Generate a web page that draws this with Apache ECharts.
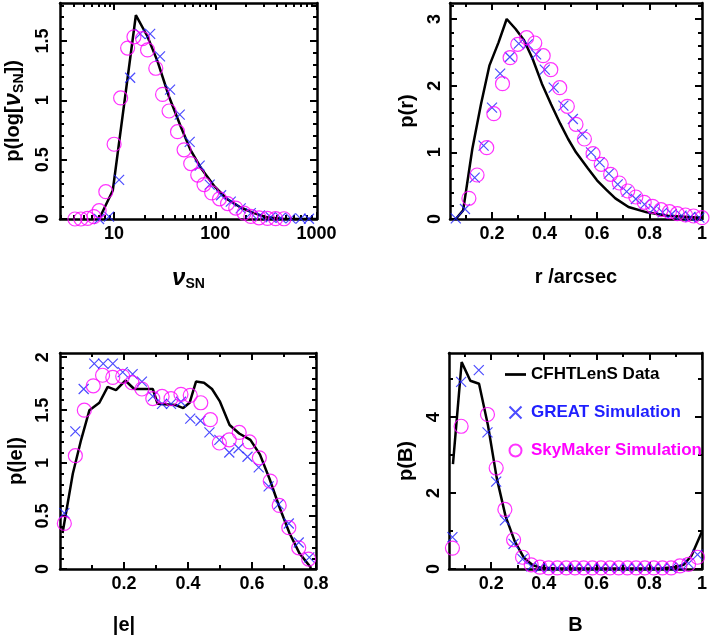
<!DOCTYPE html>
<html>
<head>
<meta charset="utf-8">
<script src="https://cdn.jsdelivr.net/npm/echarts@6/dist/echarts.min.js"></script>
<style>
  html, body { margin: 0; padding: 0; background: #fff; }
  #main { width: 710px; height: 639px; }
</style>
</head>
<body>
<div id="main"></div>
<script>
// ---- panel 1: signal to noise (x in nu_SN, drawn on log10 scale)
var snrLine = [[7.1,0],[9.7,0.24],[16.4,1.717],[21.3,1.54],[26.8,1.33],[34.9,1.03],[45.5,0.78],[57,0.58],[72,0.43],[97,0.28],[131,0.167],[178,0.097],[241,0.05],[326,0.014],[477,0],[1000,0]];
var snrGreat = [[7.1,0],[8.9,0.02],[11.2,0.33],[14.4,1.19],[18.1,1.56],[22.7,1.56],[28.4,1.37],[35.7,1.09],[44.5,0.88],[55.8,0.65],[70,0.45],[87.9,0.29],[114,0.2],[142,0.147],[178,0.09],[224,0.05],[276,0.03],[352,0.015],[442,0.01],[554,0.005],[697,0.003],[841,0.002]];
var snrSky = [[4.1,0],[4.7,0],[5.46,0.005],[6.31,0.02],[7.11,0.07],[8.28,0.23],[10,0.63],[11.6,1.02],[13.6,1.44],[15.7,1.535],[19.1,1.52],[21.4,1.425],[25.8,1.27],[30.1,1.05],[34.9,0.91],[42.3,0.736],[49.1,0.583],[57.1,0.467],[67,0.37],[77.3,0.29],[92,0.22],[110,0.17],[132,0.13],[159,0.092],[192,0.05],[224,0.022],[270,0.01],[327,0.005],[394,0.003],[477,0.002]];

// ---- panel 2: size r / arcsec
var sizeLine = [[0.062,0],[0.09,0.13],[0.125,1.05],[0.158,1.72],[0.19,2.3],[0.225,2.65],[0.256,3.0],[0.29,2.85],[0.322,2.68],[0.355,2.4],[0.39,2.03],[0.425,1.72],[0.46,1.43],[0.49,1.2],[0.52,1.0],[0.565,0.76],[0.6,0.58],[0.635,0.44],[0.67,0.31],[0.72,0.18],[0.79,0.1],[0.87,0.05],[0.95,0.03],[1.0,0.02]];
var sizeGreat = [[0.062,0.01],[0.097,0.15],[0.134,0.62],[0.168,1.1],[0.2,1.67],[0.231,2.18],[0.268,2.43],[0.302,2.63],[0.336,2.62],[0.368,2.47],[0.401,2.24],[0.435,1.97],[0.472,1.7],[0.508,1.5],[0.544,1.27],[0.577,1.0],[0.61,0.85],[0.645,0.68],[0.679,0.52],[0.713,0.41],[0.748,0.3],[0.781,0.22],[0.816,0.15],[0.85,0.1],[0.885,0.075],[0.922,0.05],[0.956,0.03],[0.99,0.02]];
var sizeSky = [[0.112,0.31],[0.143,0.66],[0.18,1.07],[0.207,1.58],[0.24,2.03],[0.269,2.42],[0.298,2.62],[0.332,2.72],[0.363,2.64],[0.395,2.45],[0.424,2.24],[0.458,1.97],[0.487,1.69],[0.52,1.42],[0.552,1.2],[0.585,0.98],[0.616,0.82],[0.652,0.67],[0.685,0.54],[0.717,0.42],[0.748,0.33],[0.78,0.25],[0.812,0.19],[0.844,0.14],[0.876,0.11],[0.906,0.08],[0.937,0.06],[0.968,0.045],[1.0,0.02]];

// ---- panel 3: ellipticity |e|
var ellLine = [[0.008,0.34],[0.02,0.55],[0.04,0.9],[0.066,1.22],[0.092,1.5],[0.123,1.57],[0.149,1.72],[0.175,1.69],[0.204,1.78],[0.232,1.7],[0.29,1.7],[0.305,1.56],[0.36,1.55],[0.385,1.52],[0.405,1.57],[0.425,1.77],[0.45,1.76],[0.475,1.7],[0.5,1.58],[0.53,1.36],[0.56,1.28],[0.595,1.22],[0.625,1.08],[0.655,0.85],[0.685,0.59],[0.717,0.34],[0.748,0.15],[0.785,0.01]];
var ellGreat = [[0.0135,0.527],[0.048,1.3],[0.074,1.7],[0.107,1.94],[0.135,1.94],[0.165,1.94],[0.196,1.86],[0.227,1.84],[0.256,1.77],[0.29,1.63],[0.319,1.56],[0.347,1.56],[0.378,1.58],[0.407,1.42],[0.439,1.4],[0.467,1.29],[0.498,1.22],[0.529,1.1],[0.558,1.14],[0.586,1.06],[0.621,0.96],[0.652,0.78],[0.683,0.61],[0.715,0.43],[0.746,0.25],[0.779,0.11]];
var ellSky = [[0.0135,0.43],[0.048,1.07],[0.076,1.5],[0.104,1.73],[0.133,1.83],[0.165,1.81],[0.196,1.82],[0.225,1.76],[0.256,1.7],[0.29,1.61],[0.319,1.63],[0.347,1.61],[0.378,1.65],[0.407,1.64],[0.44,1.57],[0.47,1.41],[0.498,1.19],[0.529,1.22],[0.56,1.29],[0.592,1.2],[0.623,1.05],[0.657,0.83],[0.685,0.6],[0.715,0.39],[0.746,0.2],[0.777,0.094]];

// ---- panel 4: bulge fraction B
var bulgeLine = [[0.055,2.76],[0.088,5.45],[0.121,4.96],[0.154,4.88],[0.188,3.78],[0.221,2.4],[0.255,1.38],[0.29,0.72],[0.324,0.3],[0.358,0.1],[0.39,0.03],[0.45,0.01],[0.55,0.01],[0.65,0.01],[0.75,0.01],[0.85,0.02],[0.9,0.05],[0.93,0.11],[0.96,0.35],[1.0,0.99]];
var bulgeGreat = [[0.053,0.84],[0.086,4.93],[0.153,5.24],[0.186,3.6],[0.219,2.3],[0.252,1.28],[0.285,0.66],[0.319,0.26],[0.352,0.07],[0.385,0.03],[0.418,0.02],[0.451,0.02],[0.485,0.02],[0.518,0.02],[0.551,0.02],[0.584,0.02],[0.617,0.02],[0.651,0.02],[0.684,0.02],[0.717,0.02],[0.75,0.02],[0.783,0.02],[0.817,0.02],[0.85,0.02],[0.883,0.03],[0.916,0.06],[0.949,0.15],[0.983,0.38]];
var bulgeSky = [[0.053,0.55],[0.086,3.76],[0.186,4.07],[0.219,2.66],[0.252,1.57],[0.285,0.77],[0.319,0.31],[0.352,0.11],[0.385,0.05],[0.418,0.03],[0.451,0.03],[0.485,0.03],[0.518,0.03],[0.551,0.03],[0.584,0.03],[0.617,0.03],[0.651,0.03],[0.684,0.03],[0.717,0.03],[0.75,0.03],[0.783,0.03],[0.817,0.03],[0.85,0.03],[0.883,0.03],[0.916,0.08],[0.949,0.12],[0.983,0.31]];

// tick values
var snrMajor = [10, 100, 1000];
var snrMinor = [3,4,5,6,7,8,9,20,30,40,50,60,70,80,90,200,300,400,500,600,700,800,900];
var unitMajor = [0.2, 0.4, 0.6, 0.8, 1.0];
var unitMinor = [0.1, 0.3, 0.5, 0.7, 0.9];

var FONT = '"Liberation Sans", Arial, sans-serif';
var BLUE = '#1f1fff', MAGENTA = '#ff00ff';

function lg(v) { return Math.log10(v); }
function fmt(v) { return String(+(+v).toFixed(2)); }

var xAxes = [], yAxes = [];

// builds the 4 tick axes of one side pair; returns index of the labelled one
function addAxes(list, dim, grid, min, max, major, minor, labels, labelFmt, name, nameGap, margin, namePad) {
  var sides = dim === 'x' ? ['bottom', 'top'] : ['left', 'right'];
  var first = list.length;
  sides.forEach(function (pos, si) {
    [major, minor].forEach(function (ticks, ti) {
      var ax = {
        type: 'value', gridIndex: grid, position: pos, min: min, max: max,
        splitLine: { show: false },
        axisLine: { show: ti === 0, onZero: false, lineStyle: { color: '#000', width: 2.5 } },
        axisTick: { show: true, inside: true, length: ti === 0 ? 7 : 4, customValues: ticks,
                    lineStyle: { color: '#000', width: 2 } },
        axisLabel: { show: false }
      };
      if (si === 0 && ti === 0) {
        ax.axisLabel = {
          show: true, customValues: labels, formatter: labelFmt || fmt,
          color: '#000', fontSize: 18, fontWeight: 'bold', fontFamily: FONT,
          margin: margin, rotate: dim === 'y' ? 90 : 0
        };
        ax.name = name;
        ax.nameLocation = 'middle';
        ax.nameGap = nameGap;
        ax.nameRotate = dim === 'y' ? 90 : 0;
        ax.nameTextStyle = {
          color: '#000', fontSize: 20, fontWeight: 'bold', fontFamily: FONT,
          padding: namePad || 0,
          rich: {
            t: { fontSize: 20, fontWeight: 'bold', fontFamily: FONT, color: '#000' },
            n: { fontSize: 24, fontWeight: 'bold', fontStyle: 'italic', fontFamily: FONT, color: '#000' },
            s: { fontSize: 14, fontWeight: 'bold', fontFamily: FONT, color: '#000', padding: [12, 0, 0, 0] }
          }
        };
      }
      list.push(ax);
    });
  });
  return first;
}

var x1 = addAxes(xAxes, 'x', 0, lg(2.92), lg(1010), snrMajor.map(lg), snrMinor.map(lg), snrMajor.map(lg),
  function (v) { return String(Math.round(Math.pow(10, v))); }, '{n|ν}{s|SN}', 46, 6);
var y1 = addAxes(yAxes, 'y', 0, 0, 1.82, [0, 0.5, 1, 1.5],
  [0.1,0.2,0.3,0.4,0.6,0.7,0.8,0.9,1.1,1.2,1.3,1.4,1.6,1.7,1.8], [0, 0.5, 1, 1.5], null,
  '{t|p(log[}{n|ν}{s|SN}{t|])}', 34, 8);

var x2 = addAxes(xAxes, 'x', 1, 0.04, 1.0, unitMajor, unitMinor, unitMajor, null, 'r /arcsec', 48, 6);
var y2 = addAxes(yAxes, 'y', 1, 0, 3.24, [0, 1, 2, 3],
  [0.2,0.4,0.6,0.8,1.2,1.4,1.6,1.8,2.2,2.4,2.6,2.8,3.2], [0, 1, 2, 3], null, 'p(r)', 33, 6);

var x3 = addAxes(xAxes, 'x', 2, 0, 0.8, [0.2, 0.4, 0.6, 0.8], [0.1, 0.3, 0.5, 0.7], [0.2, 0.4, 0.6, 0.8], null,
  '|e|', 46, 6, [0, 128, 0, 0]);
var y3 = addAxes(yAxes, 'y', 2, 0, 2.04, [0, 0.5, 1, 1.5, 2],
  [0.1,0.2,0.3,0.4,0.6,0.7,0.8,0.9,1.1,1.2,1.3,1.4,1.6,1.7,1.8,1.9], [0, 0.5, 1, 1.5, 2], null, 'p(|e|)', 34, 8);

var x4 = addAxes(xAxes, 'x', 3, 0.04, 1.0, unitMajor, unitMinor, unitMajor, null, 'B', 46, 6);
var y4 = addAxes(yAxes, 'y', 3, 0, 5.69, [0, 2, 4], [1, 3, 5], [0, 2, 4], null, 'p(B)', 33, 6);

var xSymbol = 'path://M0,0L10,10M10,0L0,10';

function panelSeries(xi, yi, line, great, sky, tx) {
  tx = tx || function (d) { return d; };
  return [
    { name: 'CFHTLenS Data', type: 'line', xAxisIndex: xi, yAxisIndex: yi, data: line.map(tx),
      symbol: 'none', lineStyle: { color: '#000', width: 2.5 }, itemStyle: { color: '#000' }, z: 3 },
    { name: 'GREAT Simulation', type: 'scatter', xAxisIndex: xi, yAxisIndex: yi, data: great.map(tx),
      symbol: xSymbol, symbolSize: 10, clip: false,
      itemStyle: { color: 'transparent', borderColor: BLUE, borderWidth: 1.2 }, z: 4 },
    { name: 'SkyMaker Simulation', type: 'scatter', xAxisIndex: xi, yAxisIndex: yi, data: sky.map(tx),
      symbol: 'circle', symbolSize: 14, clip: false,
      itemStyle: { color: 'transparent', borderColor: MAGENTA, borderWidth: 1.2 }, z: 5 }
  ];
}

var logX = function (d) { return [lg(d[0]), d[1]]; };

var option = {
  backgroundColor: '#fff',
  animation: false,
  grid: [
    { left: 60, top: 3, width: 257, height: 216 },
    { left: 450, top: 3, width: 255, height: 216 },
    { left: 60, top: 353, width: 256, height: 216 },
    { left: 449, top: 353, width: 258, height: 216 }
  ],
  xAxis: xAxes,
  yAxis: yAxes,
  legend: {
    orient: 'vertical', left: 500, top: 361,
    itemWidth: 21, itemHeight: 12, itemGap: 21, selectedMode: false,
    textStyle: { fontSize: 17, fontWeight: 'bold', fontFamily: FONT, color: '#000' },
    data: [
      { name: 'CFHTLenS Data', icon: 'path://M0,0H23V3H0Z' },
      { name: 'GREAT Simulation', textStyle: { color: BLUE } },
      { name: 'SkyMaker Simulation', textStyle: { color: MAGENTA } }
    ]
  },
  series: [].concat(
    panelSeries(x1, y1, snrLine, snrGreat, snrSky, logX),
    panelSeries(x2, y2, sizeLine, sizeGreat, sizeSky),
    panelSeries(x3, y3, ellLine, ellGreat, ellSky),
    panelSeries(x4, y4, bulgeLine, bulgeGreat, bulgeSky)
  )
};

var chart = echarts.init(document.getElementById('main'));
chart.setOption(option);
</script>
</body>
</html>
